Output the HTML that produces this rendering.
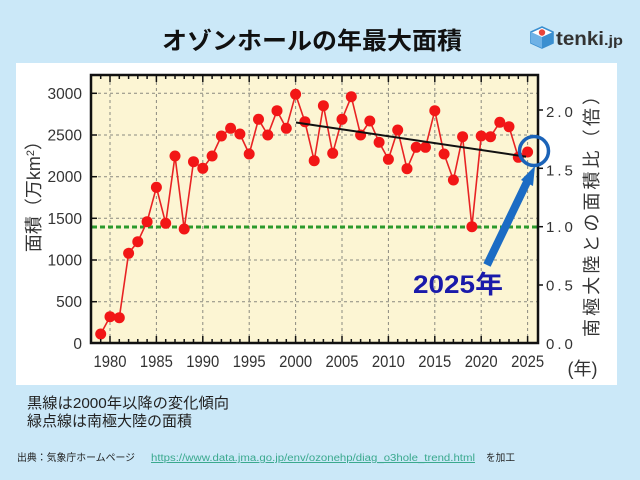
<!DOCTYPE html>
<html>
<head>
<meta charset="utf-8">
<style>
  html,body{margin:0;padding:0;background:#cbe8f8;}
  body{width:640px;height:480px;overflow:hidden;}
  svg{display:block;}
  text{font-family:"Liberation Sans","Noto Sans CJK JP",sans-serif;}
</style>
</head>
<body>
<svg width="640" height="480" viewBox="0 0 640 480" xmlns="http://www.w3.org/2000/svg">
  <rect x="0" y="0" width="640" height="480" fill="#cbe8f8"/>

  <!-- Title -->
  <text x="312" y="49" font-size="24" font-weight="bold" fill="#111" text-anchor="middle" textLength="300" lengthAdjust="spacingAndGlyphs">オゾンホールの年最大面積</text>

  <!-- tenki.jp logo -->
  <g transform="translate(531,27)">
    <polygon points="11,0 22,5 22,16 11,21 0,16 0,5" fill="#fff" stroke="#3a8fd0" stroke-width="1.6"/>
    <polygon points="0,5 11,10 11,21 0,16" fill="#6fb2e6"/>
    <polygon points="22,5 11,10 11,21 22,16" fill="#3a8fd0"/>
    <circle cx="11" cy="5.5" r="3.2" fill="#e8443a"/>
  </g>
  <text x="556" y="45" font-size="19" font-weight="bold" fill="#333" textLength="48" lengthAdjust="spacingAndGlyphs">tenki</text>
  <text x="604" y="45" font-size="14" font-weight="bold" fill="#333" textLength="19" lengthAdjust="spacingAndGlyphs">.jp</text>

  <!-- White panel -->
  <rect x="16" y="63" width="601" height="322" fill="#ffffff"/>

  <!-- Plot background -->
  <rect x="91" y="75" width="447" height="268" fill="#fcf5d3"/>

  <!-- Grid lines -->
  <g stroke="#8a8a80" stroke-width="1" stroke-dasharray="3,3" fill="none">
    <line x1="110" y1="76" x2="110" y2="342"/>
    <line x1="156.4" y1="76" x2="156.4" y2="342"/>
    <line x1="202.8" y1="76" x2="202.8" y2="342"/>
    <line x1="249.2" y1="76" x2="249.2" y2="342"/>
    <line x1="295.6" y1="76" x2="295.6" y2="342"/>
    <line x1="342" y1="76" x2="342" y2="342"/>
    <line x1="388.4" y1="76" x2="388.4" y2="342"/>
    <line x1="434.8" y1="76" x2="434.8" y2="342"/>
    <line x1="481.2" y1="76" x2="481.2" y2="342"/>
    <line x1="527.6" y1="76" x2="527.6" y2="342"/>
    <line x1="92" y1="93.3" x2="537" y2="93.3"/>
    <line x1="92" y1="135" x2="537" y2="135"/>
    <line x1="92" y1="176.7" x2="537" y2="176.7"/>
    <line x1="92" y1="218.3" x2="537" y2="218.3"/>
    <line x1="92" y1="260" x2="537" y2="260"/>
    <line x1="92" y1="301.7" x2="537" y2="301.7"/>
  </g>

  <!-- Green dotted line (Antarctic area) -->
  <line x1="92" y1="227" x2="537" y2="227" stroke="#2c9a2c" stroke-width="3" stroke-dasharray="5,3"/>

  <!-- Data line -->
  <polyline fill="none" stroke="#e82323" stroke-width="1.6" stroke-linejoin="round" points="
    100.7,334 110,316.7 119.3,317.7 128.6,253.3 137.8,241.7 147.1,221.7 156.4,187.3 165.7,223.3 175,156 184.2,229
    193.5,161.7 202.8,168.3 212.1,156 221.4,136 230.6,128.3 239.9,134 249.2,154 258.5,119.3 267.8,135 277,110.7
    286.3,128.3 295.6,94.3 304.9,121.7 314.2,160.7 323.4,105.7 332.7,153.3 342,119.3 351.3,96.7 360.6,135 369.8,121
    379.1,142.3 388.4,159.3 397.7,130 407,168.7 416.2,147.3 425.5,147.3 434.8,110.7 444.1,154 453.4,180 462.6,136.7
    471.9,226.7 481.2,136 490.5,136.7 499.8,122.3 509,126.7 518.3,157.3 527.6,152"/>

  <!-- Data points -->
  <g fill="#f21616">
    <circle cx="100.7" cy="334" r="5.5"/><circle cx="110" cy="316.7" r="5.5"/><circle cx="119.3" cy="317.7" r="5.5"/>
    <circle cx="128.6" cy="253.3" r="5.5"/><circle cx="137.8" cy="241.7" r="5.5"/><circle cx="147.1" cy="221.7" r="5.5"/>
    <circle cx="156.4" cy="187.3" r="5.5"/><circle cx="165.7" cy="223.3" r="5.5"/><circle cx="175" cy="156" r="5.5"/>
    <circle cx="184.2" cy="229" r="5.5"/><circle cx="193.5" cy="161.7" r="5.5"/><circle cx="202.8" cy="168.3" r="5.5"/>
    <circle cx="212.1" cy="156" r="5.5"/><circle cx="221.4" cy="136" r="5.5"/><circle cx="230.6" cy="128.3" r="5.5"/>
    <circle cx="239.9" cy="134" r="5.5"/><circle cx="249.2" cy="154" r="5.5"/><circle cx="258.5" cy="119.3" r="5.5"/>
    <circle cx="267.8" cy="135" r="5.5"/><circle cx="277" cy="110.7" r="5.5"/><circle cx="286.3" cy="128.3" r="5.5"/>
    <circle cx="295.6" cy="94.3" r="5.5"/><circle cx="304.9" cy="121.7" r="5.5"/><circle cx="314.2" cy="160.7" r="5.5"/>
    <circle cx="323.4" cy="105.7" r="5.5"/><circle cx="332.7" cy="153.3" r="5.5"/><circle cx="342" cy="119.3" r="5.5"/>
    <circle cx="351.3" cy="96.7" r="5.5"/><circle cx="360.6" cy="135" r="5.5"/><circle cx="369.8" cy="121" r="5.5"/>
    <circle cx="379.1" cy="142.3" r="5.5"/><circle cx="388.4" cy="159.3" r="5.5"/><circle cx="397.7" cy="130" r="5.5"/>
    <circle cx="407" cy="168.7" r="5.5"/><circle cx="416.2" cy="147.3" r="5.5"/><circle cx="425.5" cy="147.3" r="5.5"/>
    <circle cx="434.8" cy="110.7" r="5.5"/><circle cx="444.1" cy="154" r="5.5"/><circle cx="453.4" cy="180" r="5.5"/>
    <circle cx="462.6" cy="136.7" r="5.5"/><circle cx="471.9" cy="226.7" r="5.5"/><circle cx="481.2" cy="136" r="5.5"/>
    <circle cx="490.5" cy="136.7" r="5.5"/><circle cx="499.8" cy="122.3" r="5.5"/><circle cx="509" cy="126.7" r="5.5"/>
    <circle cx="518.3" cy="157.3" r="5.5"/><circle cx="527.6" cy="152" r="5.5"/>
  </g>

  <!-- Trend line -->
  <line x1="296" y1="122.5" x2="526" y2="156.7" stroke="#111" stroke-width="2"/>

  <!-- Frame -->
  <rect x="91" y="75" width="447" height="268" fill="none" stroke="#111" stroke-width="2.5"/>

  <!-- Ticks -->
  <g stroke="#111" stroke-width="1.5">
    <line x1="91" y1="93.3" x2="97" y2="93.3"/><line x1="91" y1="135" x2="97" y2="135"/>
    <line x1="91" y1="176.7" x2="97" y2="176.7"/><line x1="91" y1="218.3" x2="97" y2="218.3"/>
    <line x1="91" y1="260" x2="97" y2="260"/><line x1="91" y1="301.7" x2="97" y2="301.7"/>
    <line x1="538" y1="110" x2="543" y2="110"/><line x1="538" y1="168.3" x2="543" y2="168.3"/>
    <line x1="538" y1="226.7" x2="543" y2="226.7"/><line x1="538" y1="285" x2="543" y2="285"/>
    <path d="M100.7 343v-4 M119.3 343v-4 M128.6 343v-4 M137.8 343v-4 M147.1 343v-4 M165.7 343v-4 M175 343v-4 M184.2 343v-4 M193.5 343v-4 M212.1 343v-4 M221.4 343v-4 M230.6 343v-4 M239.9 343v-4 M258.5 343v-4 M267.8 343v-4 M277 343v-4 M286.3 343v-4 M304.9 343v-4 M314.2 343v-4 M323.4 343v-4 M332.7 343v-4 M351.3 343v-4 M360.6 343v-4 M369.8 343v-4 M379.1 343v-4 M397.7 343v-4 M407 343v-4 M416.2 343v-4 M425.5 343v-4 M444.1 343v-4 M453.4 343v-4 M462.6 343v-4 M471.9 343v-4 M490.5 343v-4 M499.8 343v-4 M509 343v-4 M518.3 343v-4
    M110 343v-7 M156.4 343v-7 M202.8 343v-7 M249.2 343v-7 M295.6 343v-7 M342 343v-7 M388.4 343v-7 M434.8 343v-7 M481.2 343v-7 M527.6 343v-7
    M100.7 75v4 M119.3 75v4 M128.6 75v4 M137.8 75v4 M147.1 75v4 M165.7 75v4 M175 75v4 M184.2 75v4 M193.5 75v4 M212.1 75v4 M221.4 75v4 M230.6 75v4 M239.9 75v4 M258.5 75v4 M267.8 75v4 M277 75v4 M286.3 75v4 M304.9 75v4 M314.2 75v4 M323.4 75v4 M332.7 75v4 M351.3 75v4 M360.6 75v4 M369.8 75v4 M379.1 75v4 M397.7 75v4 M407 75v4 M416.2 75v4 M425.5 75v4 M444.1 75v4 M453.4 75v4 M462.6 75v4 M471.9 75v4 M490.5 75v4 M499.8 75v4 M509 75v4 M518.3 75v4
    M110 75v7 M156.4 75v7 M202.8 75v7 M249.2 75v7 M295.6 75v7 M342 75v7 M388.4 75v7 M434.8 75v7 M481.2 75v7 M527.6 75v7" fill="none"/>
  </g>

  <!-- Left axis labels -->
  <g font-size="15.5" fill="#333" text-anchor="end">
    <text x="82" y="98.8">3000</text>
    <text x="82" y="140.5">2500</text>
    <text x="82" y="182.2">2000</text>
    <text x="82" y="223.8">1500</text>
    <text x="82" y="265.5">1000</text>
    <text x="82" y="307.2">500</text>
    <text x="82" y="348.8">0</text>
  </g>

  <!-- Right axis labels -->
  <g font-size="15" fill="#333" letter-spacing="3">
    <text x="546" y="117">2.0</text>
    <text x="546" y="175.5">1.5</text>
    <text x="546" y="232">1.0</text>
    <text x="546" y="290.5">0.5</text>
    <text x="546" y="348.8">0.0</text>
  </g>

  <!-- Bottom axis labels -->
  <g font-size="16.5" fill="#333" text-anchor="middle">
    <text x="110" y="367" textLength="33" lengthAdjust="spacingAndGlyphs">1980</text>
    <text x="156.4" y="367" textLength="33" lengthAdjust="spacingAndGlyphs">1985</text>
    <text x="202.8" y="367" textLength="33" lengthAdjust="spacingAndGlyphs">1990</text>
    <text x="249.2" y="367" textLength="33" lengthAdjust="spacingAndGlyphs">1995</text>
    <text x="295.6" y="367" textLength="33" lengthAdjust="spacingAndGlyphs">2000</text>
    <text x="342" y="367" textLength="33" lengthAdjust="spacingAndGlyphs">2005</text>
    <text x="388.4" y="367" textLength="33" lengthAdjust="spacingAndGlyphs">2010</text>
    <text x="434.8" y="367" textLength="33" lengthAdjust="spacingAndGlyphs">2015</text>
    <text x="481.2" y="367" textLength="33" lengthAdjust="spacingAndGlyphs">2020</text>
    <text x="527.6" y="367" textLength="33" lengthAdjust="spacingAndGlyphs">2025</text>
  </g>
  <text x="582.5" y="375" font-size="18" fill="#333" text-anchor="middle">(年)</text>

  <!-- Left axis title -->
  <text transform="translate(40,192) rotate(-90)" font-size="18" fill="#333" text-anchor="middle">面積（万km<tspan dy="-6" font-size="11">2</tspan><tspan dy="6">）</tspan></text>

  <!-- Right axis title -->
  <text transform="translate(598,212) rotate(-90)" font-size="18" fill="#333" text-anchor="middle" textLength="250" lengthAdjust="spacing">南極大陸との面積比（倍）</text>

  <!-- Blue circle and arrow annotation -->
  <circle cx="534" cy="151" r="14.5" fill="none" stroke="#1b63b8" stroke-width="3.5"/>
  <line x1="487" y1="265" x2="527" y2="182" stroke="#1b6cc4" stroke-width="8"/>
  <polygon points="535,166 521,180 533,186" fill="#1b6cc4"/>
  <text x="413" y="293" font-size="25" font-weight="bold" fill="#1a1aaa" textLength="90" lengthAdjust="spacingAndGlyphs">2025年</text>

  <!-- Notes -->
  <text x="27" y="408" font-size="15" fill="#222" textLength="202" lengthAdjust="spacingAndGlyphs">黒線は2000年以降の変化傾向</text>
  <text x="27" y="426" font-size="15" fill="#222" textLength="165" lengthAdjust="spacingAndGlyphs">緑点線は南極大陸の面積</text>

  <!-- Source -->
  <text x="17" y="461" font-size="10" fill="#222" textLength="118" lengthAdjust="spacingAndGlyphs">出典：気象庁ホームページ</text>
  <text x="151" y="461" font-size="10" fill="#3aa98e" textLength="324" lengthAdjust="spacingAndGlyphs" text-decoration="underline">https://www.data.jma.go.jp/env/ozonehp/diag_o3hole_trend.html</text>
  <text x="486" y="461" font-size="10" fill="#222" textLength="29" lengthAdjust="spacingAndGlyphs">を加工</text>
</svg>
</body>
</html>
